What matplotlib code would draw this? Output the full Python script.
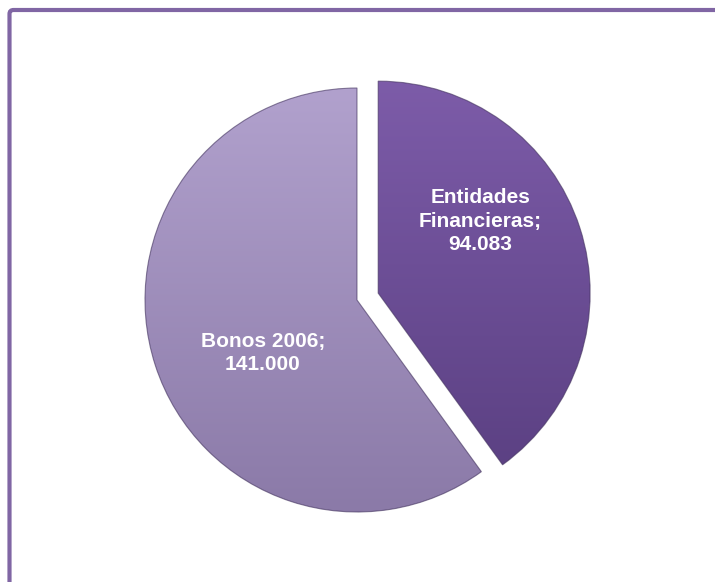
import numpy as np
import matplotlib.pyplot as plt
from matplotlib.patches import FancyBboxPatch
from matplotlib.colors import LinearSegmentedColormap

# data
labels = ["Entidades\nFinancieras;\n94.083", "Bonos 2006;\n141.000"]
values = [94.083, 141.000]

# gradient colours (top, bottom) for each slice
tops = ["#7d5ca9", "#b2a2ce"]
bottoms = ["#573d7e", "#8a79a7"]

W, H = 715, 582
fig = plt.figure(figsize=(W / 100, H / 100), dpi=100)
ax = fig.add_axes([0, 0, 1, 1])

cx, cy, r = 357, H - 300, 212
explode = [0.105 * r, 0.0]

wedges, _ = ax.pie(values, startangle=90, counterclock=False,
                   explode=explode, radius=r, center=(cx, cy), frame=True)

for w, c0, c1 in zip(wedges, tops, bottoms):
    w.set_facecolor("none")
    w.set_edgecolor("#40305c")
    w.set_linewidth(0.8)
    w.set_alpha(0.6)
    w.set_zorder(2)
    cmap = LinearSegmentedColormap.from_list("g", [c1, c0])
    grad = np.linspace(0, 1, 256).reshape(-1, 1)
    im = ax.imshow(grad, cmap=cmap, origin="lower", aspect="auto",
                   extent=[cx - r - 40, cx + r + 40, cy - r - 10, cy + r + 10],
                   zorder=1)
    im.set_clip_path(w)

# labels inside slices (angle in degrees, fraction of radius)
label_pos = [(35, 0.59), (-150.6, 0.51)]
for w, lab, (ang, d) in zip(wedges, labels, label_pos):
    ox, oy = w.center
    a = np.deg2rad(ang)
    ax.text(ox + d * r * np.cos(a), oy + d * r * np.sin(a), lab,
            ha="center", va="center", color="white", fontsize=15,
            fontweight="bold", family="Liberation Sans", linespacing=1.3,
            zorder=3)

# outer frame
frame = FancyBboxPatch((9.5, -60), 800, H - 10 + 60,
                       boxstyle="round,pad=0,rounding_size=4",
                       fill=False, edgecolor="#8066a4", lw=3, zorder=4)
ax.add_patch(frame)

ax.set_xlim(0, W)
ax.set_ylim(0, H)
ax.set_aspect("auto")
ax.axis("off")

fig.savefig("out.png", dpi=100)
